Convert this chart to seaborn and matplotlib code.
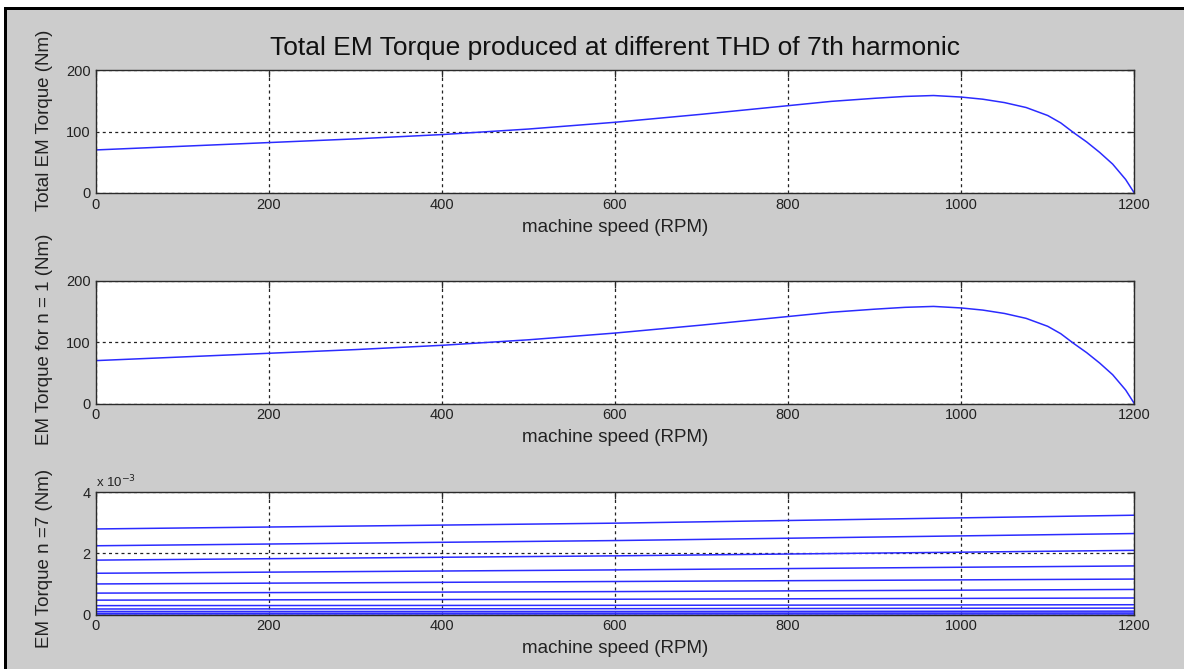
import numpy as np
import pandas as pd
import matplotlib
matplotlib.use("Agg")
import matplotlib.pyplot as plt
from matplotlib.patches import Rectangle
from matplotlib.ticker import FuncFormatter
import seaborn as sns

# ---------------- data ----------------
rpm_total = [0, 100, 200, 300, 400, 500, 600, 700, 800, 850, 900, 935, 968, 1000,
             1025, 1050, 1075, 1100, 1115, 1130, 1145, 1160, 1175, 1190, 1200]
torque_total = [70, 76, 82, 88, 95, 104, 115, 128, 142, 149, 154, 157, 158.5, 156,
                152.5, 147, 139, 126, 114, 98, 83, 66, 47, 22, 0]

rpm_n1 = rpm_total
torque_n1 = [70, 76, 82, 88, 95, 104, 115, 128, 142, 149, 154, 157, 158.5, 156,
             152.5, 147, 139, 126, 114, 98, 83, 66, 47, 22, 0]

rpm_n7 = [0, 600, 1200]
# torque of 7th harmonic (x 1e-3 Nm), one line per THD level
n7_lines_e3 = [
    [2.80, 2.99, 3.25],
    [2.25, 2.42, 2.65],
    [1.78, 1.92, 2.10],
    [1.35, 1.46, 1.59],
    [1.00, 1.08, 1.16],
    [0.70, 0.75, 0.82],
    [0.47, 0.50, 0.54],
    [0.29, 0.30, 0.32],
    [0.18, 0.19, 0.21],
    [0.10, 0.10, 0.11],
    [0.04, 0.045, 0.05],
    [0.01, 0.01, 0.01],
]

x_ticks = [0, 200, 400, 600, 800, 1000, 1200]
title = "Total EM Torque produced at different THD of 7th harmonic"
xlabel = "machine speed (RPM)"
ylabels = ["Total EM Torque (Nm)", "EM Torque for n = 1 (Nm)", "EM Torque n =7 (Nm)"]

# ---------------- style ----------------
sns.set_theme(style="white")
plt.rcParams["font.family"] = ["Liberation Sans", "DejaVu Sans"]

BG = "#cccccc"
LINE = "#2b2bff"
W, H = 1184, 669
fig = plt.figure(figsize=(W / 100, H / 100), dpi=100)
fig.patch.set_facecolor("white")
fig.patch.set_linewidth(0)

def fig_rect(x0, y0, x1, y1, color):
    """Filled rectangle in pixel coordinates (top-left origin)."""
    fig.patches.append(Rectangle((x0 / W, 1 - y1 / H), (x1 - x0) / W, (y1 - y0) / H,
                                 transform=fig.transFigure, facecolor=color,
                                 edgecolor="none", linewidth=0, zorder=-10))

# gray figure area with black frame on top and left
fig_rect(4, 7, W, H, "black")
fig_rect(7, 9.5, W, H, BG)

def px_axes(left, top, right, bottom):
    return fig.add_axes([left / W, 1 - bottom / H, (right - left) / W, (bottom - top) / H])

ax1 = px_axes(95.7, 70, 1134.3, 193)
ax2 = px_axes(95.7, 281, 1134.3, 403.5)
ax3 = px_axes(95.7, 492.3, 1134.3, 614.5)

df1 = pd.DataFrame({"rpm": rpm_total, "torque": torque_total})
df2 = pd.DataFrame({"rpm": rpm_n1, "torque": torque_n1})
rows = []
for i, vals in enumerate(n7_lines_e3):
    for r, v in zip(rpm_n7, vals):
        rows.append({"rpm": r, "torque": v * 1e-3, "line": i})
df3 = pd.DataFrame(rows)

sns.lineplot(data=df1, x="rpm", y="torque", ax=ax1, color=LINE, linewidth=1.1)
sns.lineplot(data=df2, x="rpm", y="torque", ax=ax2, color=LINE, linewidth=1.1)
sns.lineplot(data=df3, x="rpm", y="torque", units="line", estimator=None,
             ax=ax3, color=LINE, linewidth=1.1)

for ax, lab, ylim, yt, ylab_y in [
    (ax1, ylabels[0], (0, 200), [0, 100, 200], 0.59),
    (ax2, ylabels[1], (0, 200), [0, 100, 200], 0.52),
    (ax3, ylabels[2], (0, 4e-3), [0, 2e-3, 4e-3], 0.46),
]:
    ax.set_facecolor("white")
    ax.set_xlim(0, 1200)
    ax.set_ylim(*ylim)
    ax.set_xticks(x_ticks)
    ax.set_yticks(yt)
    ax.grid(True, color="#222222", linestyle=(0, (2.4, 2.6)), linewidth=0.9)
    ax.set_axisbelow(True)
    for s in ax.spines.values():
        s.set_color("#2a2a2a")
        s.set_linewidth(1.0)
        s.set_visible(True)
    ax.tick_params(direction="in", top=True, right=True, length=5, width=0.9,
                   color="#2a2a2a", labelsize=10.5, labelcolor="#222222", pad=3.5)
    ax.set_xlabel(xlabel, fontsize=13.5, color="#222222", labelpad=5)
    ax.set_ylabel(lab, fontsize=13.5, color="#222222")
    ax.yaxis.set_label_coords(-0.041, ylab_y)

ax3.yaxis.set_major_formatter(FuncFormatter(lambda v, p: f"{v * 1e3:g}"))
ax3.text(0.0, 1.015, r"x 10$^{-3}$", transform=ax3.transAxes, fontsize=9.5,
         color="#222222", ha="left", va="bottom")

ax1.set_title(title, fontsize=19, color="#111111", pad=11)

fig.savefig("out.png", dpi=100, facecolor=fig.get_facecolor())
